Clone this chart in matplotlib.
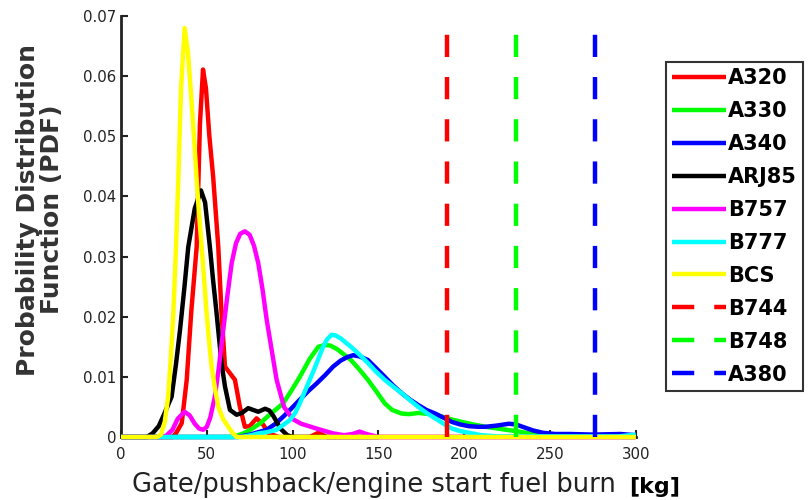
import matplotlib
matplotlib.use("Agg")
import matplotlib.pyplot as plt

# fuel burn [kg] vs PDF
a320_x = [0, 30, 32, 35.4, 38.3, 41, 44.1, 46, 47.8, 49.5, 51.5, 53.7, 56.7, 58.6, 60.6, 63.5, 66.4, 69.3, 72.2, 75, 79, 83, 86, 92, 110, 115, 120, 300]
a320_y = [0, 0, 0.0006, 0.0023, 0.0095, 0.021, 0.0316, 0.052, 0.0611, 0.058, 0.05, 0.0433, 0.0316, 0.0206, 0.0117, 0.0106, 0.0095, 0.005, 0.0017, 0.0018, 0.0031, 0.002, 0.0006, 0, 0, 0.0007, 0, 0]

a330_x = [0, 65, 71.4, 76, 81.2, 85, 89.5, 94.5, 99.5, 104.2, 110, 115, 118.8, 122, 126, 130, 134, 139, 143.9, 149, 153.7, 158, 163.5, 168, 173.3, 180, 187, 193, 198.8, 205, 212.5, 222, 232, 242, 255, 300]
a330_y = [0, 0, 0.0006, 0.0013, 0.0023, 0.0033, 0.0044, 0.0056, 0.0078, 0.01, 0.013, 0.015, 0.0153, 0.0152, 0.0146, 0.0137, 0.0128, 0.0112, 0.0095, 0.0075, 0.0056, 0.0045, 0.0039, 0.0038, 0.004, 0.0038, 0.0034, 0.0029, 0.0025, 0.0021, 0.0017, 0.0013, 0.0009, 0.0004, 0.0001, 0]

a340_x = [0, 68, 75.3, 80, 84.9, 90, 95, 99.5, 104.2, 109, 114, 119, 123.6, 128, 132, 135.3, 139, 143.9, 148.5, 153.7, 158.5, 163.5, 168.5, 173.3, 178, 183.1, 188, 192.9, 197.5, 202.7, 208, 212.5, 219, 226, 230, 234, 240, 245.9, 253, 261.6, 275, 291, 300]
a340_y = [0, 0, 0.0004, 0.0008, 0.0012, 0.0022, 0.0035, 0.0048, 0.0062, 0.0076, 0.0089, 0.0103, 0.0117, 0.0127, 0.0133, 0.0136, 0.0134, 0.0128, 0.0115, 0.01, 0.0086, 0.0073, 0.0062, 0.0053, 0.0045, 0.0039, 0.0032, 0.0025, 0.0021, 0.0018, 0.0017, 0.0017, 0.0019, 0.0022, 0.0021, 0.0017, 0.0011, 0.0007, 0.0005, 0.0005, 0.0004, 0.0005, 0.0003]

arj85_x = [0, 15, 18.4, 22, 25.3, 29.5, 32, 34.4, 37, 39.2, 43, 46.6, 49, 51.8, 53.7, 55.7, 58.6, 60.6, 63.5, 67.4, 70.5, 74.1, 77, 80, 84, 86.5, 89, 92.9, 96.9, 100, 150]
arj85_y = [0, 0, 0.0006, 0.0018, 0.0039, 0.0067, 0.012, 0.0178, 0.025, 0.0316, 0.038, 0.041, 0.039, 0.0316, 0.026, 0.0206, 0.0122, 0.0084, 0.0045, 0.0037, 0.004, 0.0048, 0.0045, 0.0042, 0.0047, 0.0044, 0.0034, 0.0014, 0.0003, 0, 0]

b757_x = [0, 24, 26.3, 30, 33, 37, 40, 43, 45.5, 47.9, 50, 52, 54.7, 57, 59.6, 62, 64.5, 67, 69.5, 72.2, 75, 77.5, 80, 82.5, 84.9, 87.5, 90.7, 95, 100, 105, 114, 123.6, 130, 135, 139, 143, 150, 300]
b757_y = [0, 0, 0.0002, 0.0012, 0.003, 0.0042, 0.0036, 0.0022, 0.0014, 0.0012, 0.0017, 0.0032, 0.0067, 0.0115, 0.0178, 0.0235, 0.0289, 0.0322, 0.0338, 0.0342, 0.0336, 0.0318, 0.0289, 0.0245, 0.0195, 0.015, 0.0095, 0.005, 0.003, 0.0022, 0.0014, 0.0006, 0.0003, 0.0005, 0.0009, 0.0005, 0, 0]

b777_x = [0, 70, 76, 80, 85, 90.7, 94.5, 98.4, 101.5, 104.2, 107, 110, 112.5, 115, 117.5, 120, 122.7, 125, 128, 131, 134, 139, 143.9, 148.5, 153.7, 158.5, 163.5, 168.5, 173.3, 178, 183.1, 188, 192.9, 197.5, 202.7, 210, 220, 290, 300]
b777_y = [0, 0, 0.0003, 0.0006, 0.0008, 0.0012, 0.002, 0.0028, 0.004, 0.0056, 0.0075, 0.0095, 0.0112, 0.013, 0.0148, 0.0162, 0.017, 0.0169, 0.0164, 0.0157, 0.015, 0.0137, 0.0123, 0.0109, 0.0095, 0.0084, 0.0073, 0.0061, 0.005, 0.004, 0.0031, 0.0022, 0.0014, 0.001, 0.0007, 0.0003, 0.0001, 0.0001, 0.0004]

bcs_x = [0, 21, 23.3, 25.5, 27.5, 29, 30.5, 32, 33.4, 35, 37.1, 39, 40.8, 42.5, 44.1, 45.5, 47, 48.5, 49.9, 51.3, 52.8, 54.7, 56.7, 59.5, 62.5, 65, 67.4, 300]
bcs_y = [0, 0, 0.0004, 0.0025, 0.0067, 0.013, 0.0206, 0.031, 0.0427, 0.058, 0.068, 0.064, 0.0571, 0.05, 0.0427, 0.037, 0.0316, 0.026, 0.0206, 0.016, 0.0117, 0.0082, 0.005, 0.003, 0.0017, 0.0007, 0, 0]

# constant fuel burn for the aircraft without a distribution
const_labels = ["B744", "B748", "A380"]
const_values = [190, 230, 276]
const_colors = ["red", "lime", "blue"]

series = [
    ("A320", a320_x, a320_y, "red"),
    ("A330", a330_x, a330_y, "lime"),
    ("A340", a340_x, a340_y, "blue"),
    ("ARJ85", arj85_x, arj85_y, "black"),
    ("B757", b757_x, b757_y, "magenta"),
    ("B777", b777_x, b777_y, "cyan"),
    ("BCS", bcs_x, bcs_y, "yellow"),
]

xticks = [0, 50, 100, 150, 200, 250, 300]
yticks = [0, 0.01, 0.02, 0.03, 0.04, 0.05, 0.06, 0.07]
ytick_labels = ["0", "0.01", "0.02", "0.03", "0.04", "0.05", "0.06", "0.07"]

fig = plt.figure(figsize=(8.12, 5.0), dpi=100)
ax = fig.add_axes([0.149, 0.126, 0.634, 0.842])

lw = 3.2
for name, xs, ys, color in series:
    ax.plot(xs, ys, color=color, lw=lw, label=name, clip_on=False, zorder=3,
            solid_joinstyle="round", solid_capstyle="butt")
for name, xv, color in zip(const_labels, const_values, const_colors):
    ax.plot([xv, xv], [0, 0.0672], color=color, lw=lw, linestyle=(0, (5, 4.5)),
            label=name, clip_on=False, zorder=3)

ax.set_xlim(0, 300)
ax.set_ylim(0, 0.07)
ax.set_xticks(xticks)
ax.set_xticklabels([str(t) for t in xticks])
ax.set_yticks(yticks)
ax.set_yticklabels(ytick_labels)
ax.tick_params(direction="in", length=5, width=1.5, labelsize=10.8, colors="#222222")
ax.tick_params(axis="x", pad=7)
ax.spines["top"].set_visible(False)
ax.spines["right"].set_visible(False)
for side in ("left", "bottom"):
    ax.spines[side].set_linewidth(2)
    ax.spines[side].set_color("#222222")

ax.set_ylabel("Probability Distribution\nFunction (PDF)", fontsize=18, fontweight="bold",
              color="#333333", linespacing=1.0)
ax.yaxis.set_label_coords(-0.11, 0.54)
fig.text(0.46, 0.016, "Gate/pushback/engine start fuel burn", fontsize=18.5, color="#222222",
         ha="center", va="baseline")
fig.text(0.775, 0.014, "[kg]", fontsize=16, fontweight="bold", color="black",
         ha="left", va="baseline")

leg = fig.legend(loc="upper left", bbox_to_anchor=(0.82, 0.876),
                 prop={"weight": "bold", "size": 15}, frameon=True, fancybox=False,
                 edgecolor="black", handlelength=2.6, handletextpad=0.08, labelspacing=0.62,
                 borderpad=0.3, borderaxespad=0)
leg.get_frame().set_linewidth(1.5)

fig.savefig("out.png", dpi=100)
